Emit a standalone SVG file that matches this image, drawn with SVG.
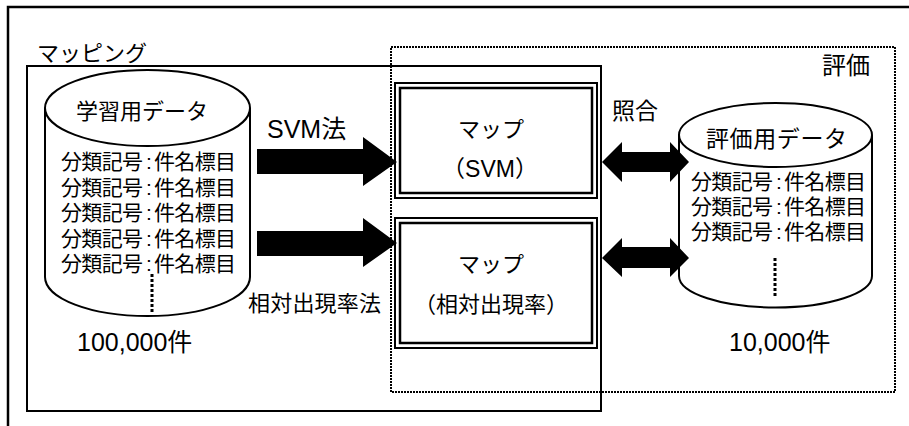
<svg xmlns="http://www.w3.org/2000/svg" width="909" height="426" viewBox="0 0 909 426">
  <style>
    text { font-family: "Liberation Sans", "Noto Sans CJK JP", sans-serif; fill: #000; }
    .frame { fill: none; stroke: #000; stroke-width: 2.5; }
    .group { fill: none; stroke: #000; stroke-width: 2; }
    .dotted { fill: none; stroke: #000; stroke-width: 2; stroke-dasharray: 2 1; }
    .cyl { fill: #fff; stroke: #000; stroke-width: 2; }
    .ellipsis { stroke: #000; stroke-width: 3; stroke-dasharray: 3 2; }
    .outer { fill: #fff; stroke: #000; stroke-width: 2; }
    .inner { fill: none; stroke: #000; stroke-width: 2.5; }
    .arrow { fill: #000; stroke: none; }
    .row { font-size: 21px; }
  </style>
  <rect width="909" height="426" fill="#fff"/>

  <!-- page frame (runs past the right and bottom edges) -->
  <rect class="frame" x="8" y="7" width="960" height="480"/>

  <!-- mapping stage -->
  <g id="mapping">
    <rect class="group" x="27" y="66" width="574" height="345"/>
    <text x="37" y="61" font-size="22">マッピング</text>
  </g>

  <!-- evaluation stage -->
  <g id="evaluation">
    <rect class="dotted" x="391" y="47" width="504" height="345"/>
    <text x="822" y="74" font-size="24">評価</text>
  </g>

  <!-- training data store -->
  <g id="training-data">
    <path class="cyl" d="M45,108 L45,277 A102.5,39 0 0 0 250,277 L250,108"/>
    <ellipse class="cyl" cx="147.5" cy="108" rx="102.5" ry="38"/>
    <text x="76" y="119" font-size="22" textLength="132">学習用データ</text>
    <text class="row" y="169"><tspan x="61" textLength="82">分類記号</tspan><tspan x="146">:</tspan><tspan x="154" textLength="82">件名標目</tspan></text>
    <text class="row" y="194.5"><tspan x="61" textLength="82">分類記号</tspan><tspan x="146">:</tspan><tspan x="154" textLength="82">件名標目</tspan></text>
    <text class="row" y="220"><tspan x="61" textLength="82">分類記号</tspan><tspan x="146">:</tspan><tspan x="154" textLength="82">件名標目</tspan></text>
    <text class="row" y="245.5"><tspan x="61" textLength="82">分類記号</tspan><tspan x="146">:</tspan><tspan x="154" textLength="82">件名標目</tspan></text>
    <text class="row" y="271"><tspan x="61" textLength="82">分類記号</tspan><tspan x="146">:</tspan><tspan x="154" textLength="82">件名標目</tspan></text>
    <line class="ellipsis" x1="152" y1="274" x2="152" y2="313"/>
    <text x="77" y="351" font-size="25">100,000件</text>
  </g>

  <!-- evaluation data store -->
  <g id="evaluation-data">
    <path class="cyl" d="M679,135 L679,276 A96.5,31.5 0 0 0 872,276 L872,135"/>
    <ellipse class="cyl" cx="775.5" cy="135" rx="96.5" ry="32"/>
    <text x="706" y="147" font-size="23" textLength="141">評価用データ</text>
    <text class="row" y="188.5"><tspan x="691" textLength="82">分類記号</tspan><tspan x="776">:</tspan><tspan x="784" textLength="82">件名標目</tspan></text>
    <text class="row" y="213.5"><tspan x="691" textLength="82">分類記号</tspan><tspan x="776">:</tspan><tspan x="784" textLength="82">件名標目</tspan></text>
    <text class="row" y="238.5"><tspan x="691" textLength="82">分類記号</tspan><tspan x="776">:</tspan><tspan x="784" textLength="82">件名標目</tspan></text>
    <line class="ellipsis" x1="775" y1="258" x2="775" y2="298"/>
    <text x="729" y="351" font-size="25">10,000件</text>
  </g>

  <!-- map built with SVM -->
  <g id="map-svm">
    <rect class="outer" x="395" y="83" width="202" height="115"/>
    <rect class="inner" x="400" y="88" width="192" height="105"/>
    <text x="491" y="137" font-size="22" text-anchor="middle">マップ</text>
    <text x="490" y="177" font-size="23" text-anchor="middle">（SVM）</text>
  </g>

  <!-- map built with relative frequency -->
  <g id="map-relfreq">
    <rect class="outer" x="395" y="218" width="202" height="130"/>
    <rect class="inner" x="400" y="223" width="192" height="120"/>
    <text x="491" y="272" font-size="22" text-anchor="middle">マップ</text>
    <text x="491" y="312" font-size="22" text-anchor="middle">（相対出現率）</text>
  </g>

  <!-- connectors -->
  <g id="connectors">
    <polygon class="arrow" points="257,149 363,149 363,137 397,162 363,186 363,174 257,174"/>
    <polygon class="arrow" points="257,231 363,231 363,218 397,243 363,267 363,256 257,256"/>
    <polygon class="arrow" points="602,162 622,142 622,152 670,152 670,142 689,162 670,182 670,172 622,172 622,182"/>
    <polygon class="arrow" points="602,258 622,238 622,247 670,247 670,238 689,258 670,277 670,268 622,268 622,277"/>
    <text x="267" y="138" font-size="25">SVM法</text>
    <text x="248" y="311" font-size="22" textLength="133">相対出現率法</text>
    <text x="612" y="119" font-size="23">照合</text>
  </g>
</svg>
